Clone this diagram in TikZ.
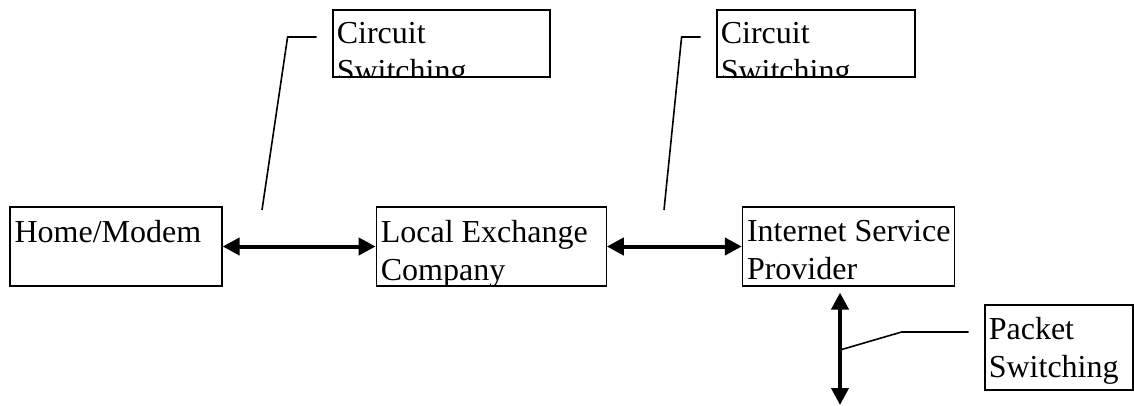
\documentclass[tikz,border=0pt]{standalone}
\usepackage{fontspec}
\setmainfont{Liberation Serif}
\usetikzlibrary{arrows.meta,positioning}
\newcommand\diagfont{\fontsize{32}{38}\selectfont}
\tikzstyle{plainbox} = [draw, line width=1.2pt, rectangle, inner sep=0pt]
\tikzstyle{notebox} = [draw, line width=2.8pt, rectangle, inner sep=0pt]
\tikzstyle{labeltext} = [anchor=north west, inner sep=0pt, align=left, font=\diagfont]
\tikzstyle{thickarrow} = [line width=4pt,
    {Triangle[length=17pt,width=17pt]}-{Triangle[length=17pt,width=17pt]}]
\tikzstyle{calloutline} = [line width=1.6pt]
\newcommand{\boxlabel}[3]{%
  \begin{scope}
    \clip ([shift={(1.5pt,2.5pt)}]#1.south west) rectangle ([shift={(-1.5pt,-1.5pt)}]#1.north east);
    \node [labeltext] (#2) at ([xshift=5pt,yshift=-13.3pt]#1.north west) {#3};
  \end{scope}}

\begin{document}
\begin{tikzpicture}[x=1pt,y=1pt]
\useasboundingbox (0,0) rectangle (1134,-406);

\node [plainbox, minimum width=212pt, minimum height=79pt] (home) at (116,-246.5) {};
\node [plainbox, minimum width=230pt, minimum height=79pt, right=153pt of home] (lec) {};
\node [plainbox, minimum width=212pt, minimum height=79pt, right=135pt of lec] (isp) {};
\boxlabel{home}{hometxt}{Home/Modem}
\boxlabel{lec}{lectxt}{Local Exchange\\Company}
\boxlabel{isp}{isptxt}{Internet Service\\Provider}

\node [notebox, minimum width=217pt, minimum height=67pt] (cs1) at (441.5,-43.5) {};
\node [notebox, minimum width=198pt, minimum height=67pt] (cs2) at (816,-43.5) {};
\node [notebox, minimum width=148pt, minimum height=85pt] (ps) at (1059,-347.5) {};
\boxlabel{cs1}{cs1txt}{Circuit\\Switching}
\boxlabel{cs2}{cs2txt}{Circuit\\Switching}
\boxlabel{ps}{pstxt}{Packet\\Switching}

\draw [thickarrow] (home) -- (lec);
\draw [thickarrow] (lec) -- (isp);

\coordinate (pend) at (840,-405);
\coordinate (pmid) at (840,-350);
\draw [thickarrow, shorten <=6pt] (isp.south -| pend) -- (pend);

\coordinate (c1end) at (262,-210);
\coordinate (c2end) at (664,-210);
\draw [calloutline] ([xshift=-15pt,yshift=6.5pt]cs1.west) -- ++(-29,0) -- (c1end);
\draw [calloutline] ([xshift=-15pt,yshift=6.5pt]cs2.west) -- ++(-19,0) -- (c2end);
\draw [calloutline] ([xshift=-15pt,yshift=15.5pt]ps.west) -- ++(-67,0) -- (pmid);

\end{tikzpicture}
\end{document}
